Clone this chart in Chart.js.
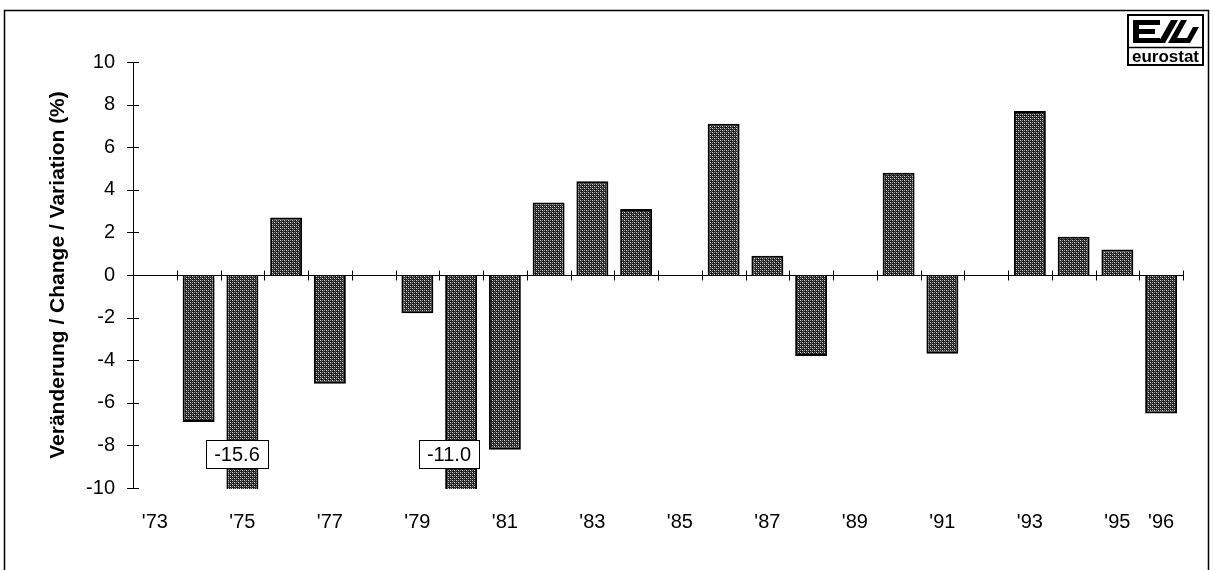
<!DOCTYPE html>
<html>
<head>
<meta charset="utf-8">
<script src="https://cdn.jsdelivr.net/npm/chart.js@4.4.1/dist/chart.umd.min.js"></script>
<style>
  html, body { margin: 0; padding: 0; background: #fff; }
  canvas { display: block; }
</style>
</head>
<body>
<canvas id="chart" width="1213" height="570"></canvas>
<script>
const years = ["'73", "'74", "'75", "'76", "'77", "'78", "'79", "'80", "'81", "'82", "'83", "'84",
               "'85", "'86", "'87", "'88", "'89", "'90", "'91", "'92", "'93", "'94", "'95", "'96"];
const shownYears = ["'73", "'75", "'77", "'79", "'81", "'83", "'85", "'87", "'89", "'91", "'93", "'95", "'96"];
const changes = [null, -6.9, -15.6, 2.7, -5.1, null, -1.8, -11.0, -8.2, 3.4, 4.4, 3.1,
                 null, 7.1, 0.9, -3.8, null, 4.8, -3.7, null, 7.7, 1.8, 1.2, -6.5];
// bars running past the axis minimum get their real value written in a box
const clippedYears = ["'75", "'80"];
const clippedShift = [-5, -12];
const clippedLabelAt = -8.4;

const FONT = '"Liberation Sans", Arial, sans-serif';

function dotPattern() {
    const c = document.createElement('canvas');
    c.width = 4; c.height = 4;
    const g = c.getContext('2d');
    g.fillStyle = '#1c1c1c';
    g.fillRect(0, 0, 4, 4);
    g.fillStyle = '#e0e0e0';
    [[0, 0], [2, 2]].forEach(p => g.fillRect(p[0], p[1], 1, 1));
    g.fillStyle = '#9a9a9a';
    [[2, 0], [0, 2]].forEach(p => g.fillRect(p[0], p[1], 1, 1));
    g.fillStyle = '#555';
    [[1, 1], [3, 3]].forEach(p => g.fillRect(p[0], p[1], 1, 1));
    return g.createPattern(c, 'repeat');
}

// frame round the whole picture and the eurostat mark
const framePlugin = {
    id: 'frame',
    beforeDraw(chart) {
        const ctx = chart.ctx;
        ctx.save();
        ctx.fillStyle = '#fff';
        ctx.fillRect(0, 0, chart.width, chart.height);
        ctx.strokeStyle = '#000';
        ctx.lineWidth = 1.5;
        ctx.beginPath();
        ctx.moveTo(4.5, chart.height);
        ctx.lineTo(4.5, 10.5);
        ctx.lineTo(1208.5, 10.5);
        ctx.lineTo(1208.5, chart.height);
        ctx.stroke();
        ctx.restore();
    },
    afterDraw(chart) {
        const ctx = chart.ctx;
        ctx.save();
        ctx.strokeStyle = '#000';
        ctx.fillStyle = '#000';
        ctx.lineWidth = 2;
        ctx.strokeRect(1128, 15, 75, 50);
        ctx.lineWidth = 1.5;
        ctx.beginPath();
        ctx.moveTo(1128, 47.5); ctx.lineTo(1203, 47.5);
        ctx.stroke();
        // E
        ctx.fillRect(1133, 20, 6, 23);
        ctx.fillRect(1133, 20, 27, 5);
        ctx.fillRect(1133, 29, 22, 5);
        ctx.fillRect(1133, 38, 27, 5);
        // slashes
        ctx.beginPath();
        ctx.moveTo(1158, 43); ctx.lineTo(1165, 43); ctx.lineTo(1178, 20); ctx.lineTo(1171, 20);
        ctx.closePath(); ctx.fill();
        ctx.beginPath();
        ctx.moveTo(1168, 43); ctx.lineTo(1190, 43); ctx.lineTo(1199, 27); ctx.lineTo(1193, 27);
        ctx.lineTo(1187, 38); ctx.lineTo(1177, 38); ctx.lineTo(1187, 20); ctx.lineTo(1181, 20);
        ctx.closePath(); ctx.fill();
        ctx.font = 'bold 17px ' + FONT;
        ctx.textAlign = 'center';
        ctx.textBaseline = 'alphabetic';
        ctx.fillText('eurostat', 1165.5, 62);
        ctx.restore();
    }
};

const axisMarks = {
    id: 'axisMarks',
    afterDatasetsDraw(chart) {
        const {ctx, chartArea: a, scales: {x, y}} = chart;
        const y0 = Math.round(y.getPixelForValue(0)) + 0.5;
        const left = Math.round(a.left) + 0.5;
        ctx.save();
        ctx.strokeStyle = '#000';
        ctx.lineWidth = 1;
        ctx.beginPath();
        ctx.moveTo(left, a.top); ctx.lineTo(left, a.bottom);
        ctx.moveTo(a.left, y0); ctx.lineTo(a.right, y0);
        const half = (x.getPixelForValue(1) - x.getPixelForValue(0)) / 2;
        years.forEach((_, i) => {
            const px = Math.round(x.getPixelForValue(i) + half) + 0.5;
            ctx.moveTo(px, y0 - 5); ctx.lineTo(px, y0 + 5);
        });
        y.ticks.forEach(t => {
            const py = Math.round(y.getPixelForValue(t.value)) + 0.5;
            ctx.moveTo(a.left - 6, py); ctx.lineTo(a.left + 6, py);
        });
        ctx.stroke();

        ctx.font = '20px ' + FONT;
        ctx.textAlign = 'center';
        ctx.textBaseline = 'middle';
        clippedYears.forEach((yr, k) => {
            const i = years.indexOf(yr);
            const text = changes[i].toFixed(1);
            const w = Math.round(ctx.measureText(text).width + 16);
            const h = 28;
            const cx = Math.round(x.getPixelForValue(i) + clippedShift[k]);
            const cy = Math.round(y.getPixelForValue(clippedLabelAt));
            ctx.fillStyle = '#fff';
            ctx.fillRect(cx - w / 2, cy - h / 2, w, h);
            ctx.strokeRect(cx - w / 2 + 0.5, cy - h / 2 + 0.5, w, h);
            ctx.fillStyle = '#000';
            ctx.fillText(text, cx, cy + 1);
        });
        ctx.restore();
    }
};

new Chart(document.getElementById('chart'), {
    type: 'bar',
    data: {
        labels: years,
        datasets: [{
            data: changes,
            backgroundColor: dotPattern(),
            borderColor: '#000',
            borderWidth: 2,
            barPercentage: 0.73,
            categoryPercentage: 1,
            clip: 1
        }]
    },
    options: {
        responsive: false,
        animation: false,
        layout: { padding: { top: 62, right: 30, left: 0, bottom: 0 } },
        plugins: {
            legend: { display: false },
            tooltip: { enabled: false }
        },
        scales: {
            x: {
                grid: { display: false, drawTicks: false },
                border: { display: false },
                ticks: {
                    autoSkip: false,
                    maxRotation: 0,
                    padding: 22,
                    color: '#000',
                    font: { family: FONT, size: 20 },
                    callback: (v, i) => shownYears.includes(years[i]) ? years[i] : ''
                },
                afterFit: s => { s.height = 82; }
            },
            y: {
                min: -10,
                max: 10,
                grid: { display: false, drawTicks: false },
                border: { display: false },
                ticks: {
                    stepSize: 2,
                    padding: 18,
                    color: '#000',
                    font: { family: FONT, size: 20 }
                },
                title: {
                    display: true,
                    text: 'Veränderung / Change / Variation (%)',
                    color: '#000',
                    font: { family: FONT, size: 21, weight: 'bold' },
                    padding: { top: 46, bottom: 0 }
                },
                afterFit: s => { s.width = 133; }
            }
        }
    },
    plugins: [framePlugin, axisMarks]
});
</script>
</body>
</html>
